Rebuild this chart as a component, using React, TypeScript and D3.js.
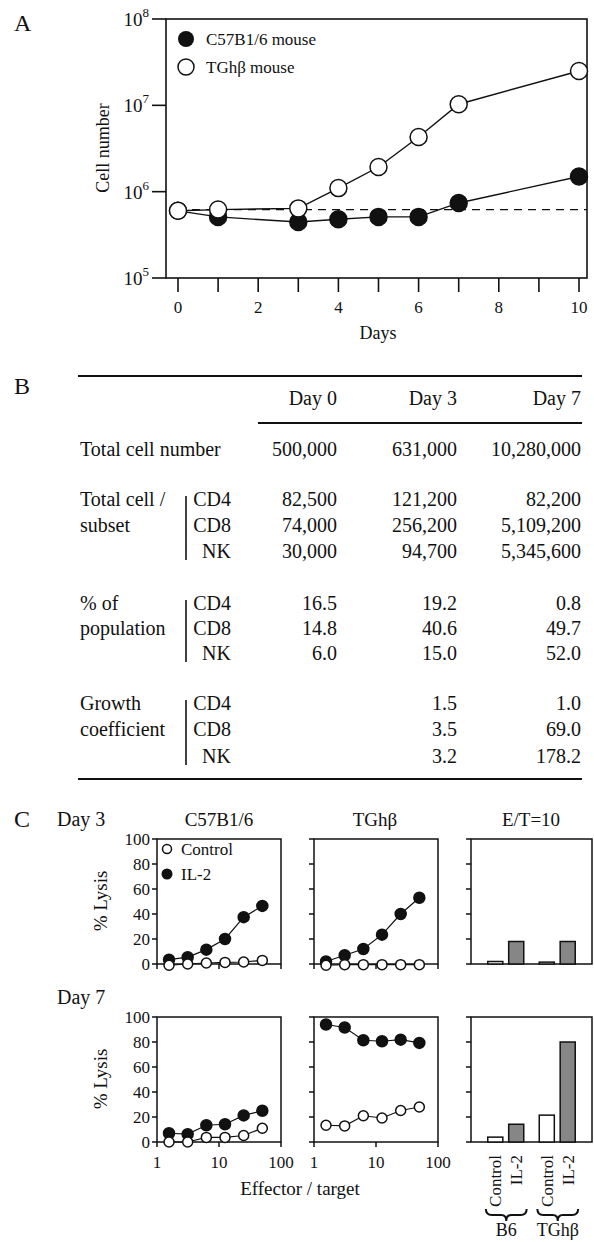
import React, { useEffect, useRef } from 'react';
import * as d3 from 'd3';

// Panel A: cell expansion
const days = [0, 1, 3, 4, 5, 6, 7, 10];
const c57Cells = [6.0e5, 5.1e5, 4.45e5, 4.8e5, 5.1e5, 5.1e5, 7.4e5, 1.5e6];
const tghCells = [6.0e5, 6.2e5, 6.4e5, 1.1e6, 1.93e6, 4.3e6, 1.03e7, 2.5e7];
const startLevel = 6.2e5;
const decadeTicks = [1e5, 1e6, 1e7, 1e8];
const decadeExponents = ['5', '6', '7', '8'];
const dayTicks = [0, 1, 2, 3, 4, 5, 6, 7, 8, 9, 10];
const dayLabels = [0, 2, 4, 6, 8, 10];

// Panel B: table
const dayColumns = ['Day 0', 'Day 3', 'Day 7'];
const totalCells = ['500,000', '631,000', '10,280,000'];
const subsets = ['CD4', 'CD8', 'NK'];
const cellsPerSubset = [
  ['82,500', '121,200', '82,200'],
  ['74,000', '256,200', '5,109,200'],
  ['30,000', '94,700', '5,345,600'],
];
const percentPopulation = [
  ['16.5', '19.2', '0.8'],
  ['14.8', '40.6', '49.7'],
  ['6.0', '15.0', '52.0'],
];
const growthCoefficient = [
  ['', '1.5', '1.0'],
  ['', '3.5', '69.0'],
  ['', '3.2', '178.2'],
];

// Panel C: lysis
const ratios = [1.5625, 3.125, 6.25, 12.5, 25, 50];
const c57Day3Control = [-1, 0, 0.8, 1.3, 1.6, 2.9];
const c57Day3IL2 = [3.5, 5.5, 11.5, 20, 37.5, 46.5];
const tghDay3Control = [-1, -0.5, -0.5, -0.5, -0.5, -0.5];
const tghDay3IL2 = [2, 7, 12, 23.5, 40, 53];
const c57Day7Control = [0, 0, 3.7, 3.7, 5.2, 11];
const c57Day7IL2 = [7, 6.3, 13.4, 14.2, 21.3, 25];
const tghDay7Control = [13.4, 12.9, 21, 19.2, 25.2, 28];
const tghDay7IL2 = [94, 91.6, 81.4, 80.6, 81.9, 79.3];
const mouseGroups = ['B6', 'TGhβ'];
const treatments = ['Control', 'IL-2'];
const barsDay3 = [[2, 18], [1.5, 18]];
const barsDay7 = [[3.9, 14.2], [21.5, 80]];
const lysisTicks = [0, 20, 40, 60, 80, 100];
const ratioTicks = [1, 10, 100];

const FONT = '"Liberation Serif", "Times New Roman", serif';

const App = () => {
  const svgRef = useRef<SVGSVGElement>(null);

  useEffect(() => {
    const svg = d3.select(svgRef.current);
    svg.selectAll('*').remove();
    svg.attr('font-family', FONT).attr('fill', '#111');

    const label = (x, y, txt, size, anchor = 'start') =>
      svg
        .append('text')
        .attr('x', x)
        .attr('y', y)
        .attr('dy', '0.35em')
        .attr('font-size', size)
        .attr('text-anchor', anchor)
        .text(txt);

    // ---------- A ----------
    label(14, 23, 'A', 24);
    const x = d3.scaleLinear().domain([0, 10]).range([178, 579]);
    const y = d3.scaleLog().domain([1e5, 1e8]).range([278, 19]);
    const a = svg.append('g');
    a.append('rect')
      .attr('x', 166).attr('y', 19).attr('width', 421).attr('height', 259)
      .attr('fill', 'none').attr('stroke', '#111').attr('stroke-width', 1.6);

    decadeTicks.forEach((t, i) => {
      a.append('line').attr('x1', 152).attr('x2', 166).attr('y1', y(t)).attr('y2', y(t))
        .attr('stroke', '#111').attr('stroke-width', 1.6);
      const tx = a.append('text').attr('x', 149).attr('y', y(t) + 7)
        .attr('text-anchor', 'end').attr('font-size', 19);
      tx.append('tspan').text('10');
      tx.append('tspan').attr('dy', -9).attr('font-size', 13).text(decadeExponents[i]);
    });
    dayTicks.forEach((d) => {
      a.append('line').attr('x1', x(d)).attr('x2', x(d)).attr('y1', 278).attr('y2', 292)
        .attr('stroke', '#111').attr('stroke-width', 1.6);
    });
    dayLabels.forEach((d) => {
      a.append('text').attr('x', x(d)).attr('y', 307).attr('dy', '0.35em')
        .attr('text-anchor', 'middle').attr('font-size', 17).text(d);
    });
    a.append('text').attr('x', 378).attr('y', 333).attr('dy', '0.35em')
      .attr('text-anchor', 'middle').attr('font-size', 18).text('Days');
    a.append('text').attr('transform', 'translate(103,148) rotate(-90)').attr('dy', '0.35em')
      .attr('text-anchor', 'middle').attr('font-size', 18).text('Cell number');

    a.append('line').attr('x1', x(0)).attr('x2', 587)
      .attr('y1', y(startLevel)).attr('y2', y(startLevel))
      .attr('stroke', '#111').attr('stroke-width', 1.2).attr('stroke-dasharray', '8,6');

    const lineA = d3.line<number>().x((_, i) => x(days[i])).y((v) => y(v));
    [c57Cells, tghCells].forEach((series, k) => {
      a.append('path').attr('d', lineA(series)).attr('fill', 'none')
        .attr('stroke', '#111').attr('stroke-width', 1.4);
      a.selectAll(null).data(series).enter().append('circle')
        .attr('cx', (_, i) => x(days[i])).attr('cy', (v) => y(v)).attr('r', 8.5)
        .attr('fill', k === 0 ? '#111' : '#fff').attr('stroke', '#111').attr('stroke-width', 1.5);
    });
    a.append('circle').attr('cx', 186).attr('cy', 39).attr('r', 8).attr('fill', '#111');
    a.append('circle').attr('cx', 186).attr('cy', 67).attr('r', 8).attr('fill', '#fff')
      .attr('stroke', '#111').attr('stroke-width', 1.5);
    label(206, 39, 'C57B1/6 mouse', 17);
    label(206, 67, 'TGhβ mouse', 17);

    // ---------- B ----------
    label(14, 386, 'B', 24);
    const colRight = [337, 457, 581];
    const rule = (x1, x2, yy) =>
      svg.append('line').attr('x1', x1).attr('x2', x2).attr('y1', yy).attr('y2', yy)
        .attr('stroke', '#111').attr('stroke-width', 2);
    rule(78, 582, 376);
    rule(258, 582, 423);
    rule(78, 582, 779);
    dayColumns.forEach((c, i) => label(colRight[i], 398, c, 20, 'end'));
    label(80, 449, 'Total cell number', 20);
    totalCells.forEach((v, i) => label(colRight[i], 449, v, 20, 'end'));

    const blocks = [
      { rows: [499, 525, 551], title: ['Total cell /', 'subset'], values: cellsPerSubset },
      { rows: [603, 628, 653], title: ['% of', 'population'], values: percentPopulation },
      { rows: [703, 729, 756], title: ['Growth', 'coefficient'], values: growthCoefficient },
    ];
    blocks.forEach((b) => {
      label(80, b.rows[0], b.title[0], 20);
      label(80, b.rows[1], b.title[1], 20);
      svg.append('line').attr('x1', 186).attr('x2', 186)
        .attr('y1', b.rows[0] - 3).attr('y2', b.rows[2] + 9)
        .attr('stroke', '#111').attr('stroke-width', 1.6);
      subsets.forEach((s, r) => {
        label(231, b.rows[r], s, 20, 'end');
        b.values[r].forEach((v, c) => label(colRight[c], b.rows[r], v, 20, 'end'));
      });
    });

    // ---------- C ----------
    label(14, 819, 'C', 24);
    label(57, 819, 'Day 3', 20);
    label(57, 997, 'Day 7', 20);
    label(219, 819, 'C57B1/6', 19, 'middle');
    label(375, 819, 'TGhβ', 19, 'middle');
    label(531, 819, 'E/T=10', 19, 'middle');

    const frame = (g, x0, w, yb) => {
      g.append('rect').attr('x', x0).attr('y', yb - 125).attr('width', w).attr('height', 125)
        .attr('fill', 'none').attr('stroke', '#111').attr('stroke-width', 1.5);
      const yl = d3.scaleLinear().domain([0, 100]).range([yb, yb - 125]);
      lysisTicks.forEach((t) => {
        g.append('line').attr('x1', x0 - 5).attr('x2', x0).attr('y1', yl(t)).attr('y2', yl(t))
          .attr('stroke', '#111').attr('stroke-width', 1.5);
      });
      return yl;
    };

    const lysisPlot = (x0, yb, control, il2, opts) => {
      const g = svg.append('g');
      const xl = d3.scaleLog().domain([1, 100]).range([x0, x0 + 124]);
      const yl = frame(g, x0, 124, yb);
      ratioTicks.forEach((t) => {
        g.append('line').attr('x1', xl(t)).attr('x2', xl(t)).attr('y1', yb).attr('y2', yb + 5)
          .attr('stroke', '#111').attr('stroke-width', 1.5);
        if (opts.xLabels)
          g.append('text').attr('x', xl(t)).attr('y', yb + 20).attr('dy', '0.35em')
            .attr('text-anchor', 'middle').attr('font-size', 17).text(t);
      });
      if (opts.yLabels) {
        lysisTicks.forEach((t) => {
          g.append('text').attr('x', x0 - 7).attr('y', yl(t)).attr('dy', '0.35em')
            .attr('text-anchor', 'end').attr('font-size', 17).text(t);
        });
        g.append('text').attr('transform', `translate(100,${yb - 63}) rotate(-90)`)
          .attr('dy', '0.35em').attr('text-anchor', 'middle').attr('font-size', 19).text('% Lysis');
      }
      const ln = d3.line<number>().x((_, i) => xl(ratios[i])).y((v) => yl(v));
      [il2, control].forEach((series, k) => {
        g.append('path').attr('d', ln(series)).attr('fill', 'none')
          .attr('stroke', '#111').attr('stroke-width', 1.2);
        g.selectAll(null).data(series).enter().append('circle')
          .attr('cx', (_, i) => xl(ratios[i])).attr('cy', (v) => yl(v))
          .attr('r', k === 0 ? 5.5 : 5)
          .attr('fill', k === 0 ? '#111' : '#fff').attr('stroke', '#111').attr('stroke-width', 1.5);
      });
    };

    const outer = d3.scaleBand().domain(mouseGroups).range([471, 592])
      .paddingInner(0.15).paddingOuter(0.25);
    const inner = d3.scaleBand().domain(treatments).range([0, outer.bandwidth()])
      .paddingInner(0.28).paddingOuter(0.186);

    const barPlot = (yb, values, opts) => {
      const g = svg.append('g');
      const yl = frame(g, 471, 121, yb);
      mouseGroups.forEach((m, gi) => {
        treatments.forEach((t, ti) => {
          const v = values[gi][ti];
          g.append('rect').attr('x', outer(m) + inner(t)).attr('width', inner.bandwidth())
            .attr('y', yl(v)).attr('height', yb - yl(v))
            .attr('fill', ti === 0 ? '#fff' : '#868686')
            .attr('stroke', '#111').attr('stroke-width', 1.5);
          if (opts.xLabels) {
            const cx = outer(m) + inner(t) + inner.bandwidth() / 2;
            g.append('text').attr('transform', `translate(${cx},${yb + 13}) rotate(-90)`)
              .attr('dy', '0.35em').attr('text-anchor', 'end').attr('font-size', 17).text(t);
          }
        });
        if (opts.xLabels) {
          const x1 = outer(m) + 2;
          const x2 = outer(m) + outer.bandwidth() - 1;
          const mid = (x1 + x2) / 2;
          const y0 = yb + 67;
          const h = 12;
          g.append('path')
            .attr('d', `M${x1},${y0} Q${x1},${y0 + h / 2} ${x1 + 6},${y0 + h / 2} L${mid - 5},${y0 + h / 2} Q${mid},${y0 + h / 2} ${mid},${y0 + h} Q${mid},${y0 + h / 2} ${mid + 5},${y0 + h / 2} L${x2 - 6},${y0 + h / 2} Q${x2},${y0 + h / 2} ${x2},${y0}`)
            .attr('fill', 'none').attr('stroke', '#111').attr('stroke-width', 2);
          g.append('text').attr('x', mid).attr('y', yb + 88).attr('dy', '0.35em')
            .attr('text-anchor', 'middle').attr('font-size', 18).text(m);
        }
      });
    };

    lysisPlot(157, 964, c57Day3Control, c57Day3IL2, { yLabels: true, xLabels: false });
    lysisPlot(314, 964, tghDay3Control, tghDay3IL2, { yLabels: false, xLabels: false });
    barPlot(964, barsDay3, { xLabels: false });
    lysisPlot(157, 1142, c57Day7Control, c57Day7IL2, { yLabels: true, xLabels: true });
    lysisPlot(314, 1142, tghDay7Control, tghDay7IL2, { yLabels: false, xLabels: true });
    barPlot(1142, barsDay7, { xLabels: true });

    // legend in first panel
    svg.append('circle').attr('cx', 167).attr('cy', 849).attr('r', 4.5).attr('fill', '#fff')
      .attr('stroke', '#111').attr('stroke-width', 1.5);
    svg.append('circle').attr('cx', 167).attr('cy', 874).attr('r', 5.5).attr('fill', '#111');
    label(181, 849, 'Control', 17);
    label(181, 874, 'IL-2', 17);

    label(300, 1188, 'Effector / target', 19, 'middle');
  }, []);

  return (
    <svg
      ref={svgRef}
      width={594}
      height={1242}
      style={{ position: 'absolute', left: 0, top: 0, background: '#fff' }}
    />
  );
};

export default App;
